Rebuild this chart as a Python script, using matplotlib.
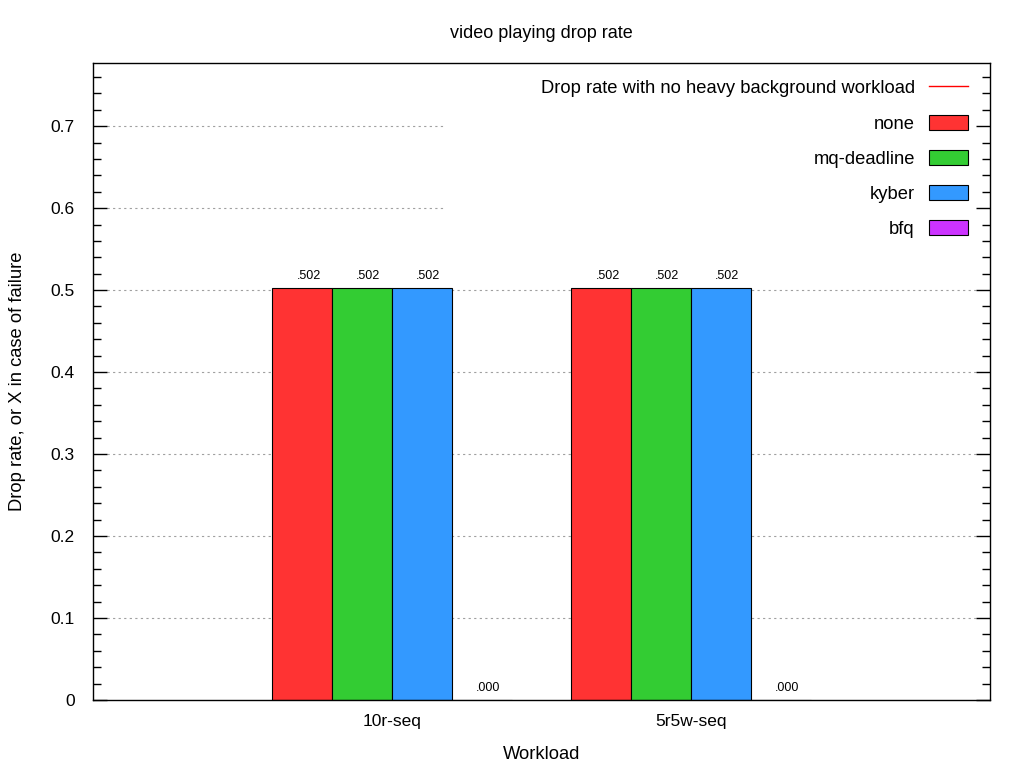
import matplotlib
matplotlib.use("Agg")
import matplotlib.pyplot as plt
import numpy as np
from matplotlib.lines import Line2D
from matplotlib.patches import Patch
from matplotlib.ticker import MultipleLocator, FuncFormatter

plt.rcParams["font.family"] = ["Liberation Sans", "DejaVu Sans"]

# data
workloads = ["10r-seq", "5r5w-seq"]
schedulers = ["none", "mq-deadline", "kyber", "bfq"]
val_none = [0.502, 0.502]
val_mq = [0.502, 0.502]
val_kyber = [0.502, 0.502]
val_bfq = [0.000, 0.000]
baseline_label = "Drop rate with no heavy background workload"

colores = ["#ff3333", "#33cc33", "#3399ff", "#cc33ff"]
series = [val_none, val_mq, val_kyber, val_bfq]

fig = plt.figure(figsize=(10.24, 7.68), dpi=100)
ax = fig.add_axes([93 / 1024, 68 / 768, 897 / 1024, 637 / 768])

ymax = 0.777
ax.set_xlim(-1, 2)
ax.set_ylim(0, ymax)

# rejilla estilo gnuplot: punteada gris, tapada por la caja de la leyenda arriba a la derecha
for yv in np.arange(0.1, 0.75, 0.1):
    xmax = 0.392 if yv > 0.55 else 0.984
    ax.axhline(yv, xmin=0.016, xmax=xmax, color="#a0a0a0", lw=0.8,
               ls=(0, (2, 3)), zorder=0.5)

x = np.arange(len(workloads))
ancho = 0.2
for i, (vals, col) in enumerate(zip(series, colores)):
    pos = x + (i - 1.5) * ancho
    ax.bar(pos, vals, width=ancho, color=col, edgecolor="black", lw=0.8,
           zorder=2)
    for px, v in zip(pos, vals):
        ax.annotate(f"{v:.3f}".lstrip("0"), (px, v), xytext=(4.5, 4.5),
                    textcoords="offset points", ha="center", va="bottom",
                    fontsize=9)

ax.set_xticks(x)
ax.set_xticklabels(workloads, fontsize=12.5)
ax.tick_params(axis="x", length=0, pad=10)

ax.yaxis.set_major_locator(MultipleLocator(0.1))
ax.yaxis.set_minor_locator(MultipleLocator(0.02))
ax.yaxis.set_major_formatter(FuncFormatter(lambda v, p: f"{v:g}"))
ax.tick_params(axis="y", which="both", direction="in", left=True, right=True,
               labelsize=12.5, pad=13, width=1)
ax.tick_params(axis="y", which="major", length=10)
ax.tick_params(axis="y", which="minor", length=5.5)

for s in ax.spines.values():
    s.set_linewidth(1)

ax.set_xlabel("Workload", fontsize=13.2, labelpad=12)
ax.set_ylabel("Drop rate, or X in case of failure", fontsize=13.2, labelpad=18)
ax.set_title("video playing drop rate", fontsize=13, pad=18)

handles = [Line2D([], [], color="#ff0000", lw=1)]
handles += [Patch(facecolor=c, edgecolor="black", lw=0.8) for c in colores]
labels = [baseline_label] + schedulers
leg = ax.legend(handles, labels, loc="upper right", bbox_to_anchor=(0.9918, 0.997),
                frameon=False, markerfirst=False, fontsize=13.2,
                handlelength=2.13, handleheight=0.87, handletextpad=0.77,
                labelspacing=0.95, borderaxespad=0.4, borderpad=0.4)
for t in leg.get_texts():
    t.set_ha("right")

fig.savefig("out.png", dpi=100)
plt.close(fig)
